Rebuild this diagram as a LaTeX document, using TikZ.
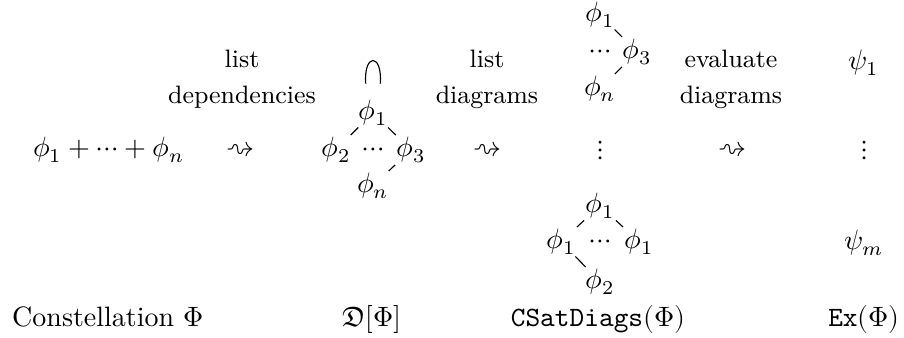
\documentclass[tikz,border=0pt]{standalone}
\usepackage{amsmath}
\usepackage{unicode-math}
\setmathfont{Latin Modern Math}
\begin{document}
\begin{tikzpicture}[x=0.357pt,y=-0.357pt,
  lbl/.style={anchor=base,inner sep=0pt,font=\small},
  mn/.style={anchor=base,inner sep=0pt},
  ln/.style={draw,line width=0.4pt,shorten <=0.5pt,shorten >=0.5pt}]
\useasboundingbox (0,0) rectangle (904,337);
% main row
\node[mn] (sum) at (109,156) {$\phi_1+\cdots+\phi_n$};
\node[mn] (sq1) at (240,156) {$\rightsquigarrow$};
\node[mn] (sq2) at (487,156) {$\rightsquigarrow$};
\node[mn] (sq3) at (732,156) {$\rightsquigarrow$};
% labels
\node[lbl] (l1a) at (242,67) {list};
\node[lbl] (l1b) at (242,103) {dependencies};
\node[lbl] (l2a) at (487,67) {list};
\node[lbl] (l2b) at (487,103) {diagrams};
\node[lbl] (l3a) at (731,67) {evaluate};
\node[lbl] (l3b) at (731,103) {diagrams};
% dependency graph
\node[mn] (d1) at (373,119) {$\phi_1$};
\node[mn] (d2) at (336,156) {$\phi_2$};
\node[mn] (dd) at (373,156) {$\cdots$};
\node[mn] (d3) at (411,156) {$\phi_3$};
\node[mn] (dn) at (373,192) {$\phi_n$};
\path[ln] (d1) -- (d2);
\path[ln] (d1) -- (d3);
\path[ln] (d3) -- (dn);
\coordinate (lpa) at ([xshift=-2.6pt,yshift=5.5pt]d1.north);
\coordinate (lpb) at ([xshift=2.6pt,yshift=5.5pt]d1.north);
\draw[line width=0.4pt] (lpa) .. controls +(-0.8pt,11pt) and +(0.8pt,11pt) .. (lpb);
% top diagram
\node[mn] (a1) at (600,21) {$\phi_1$};
\node[mn] (ad) at (600,58) {$\cdots$};
\node[mn] (a3) at (637,58) {$\phi_3$};
\node[mn] (an) at (600,95) {$\phi_n$};
\path[ln] (a1) -- (a3);
\path[ln] (a3) -- (an);
% vertical dots
\node[mn] (v1) at (601,157) {$\vdots$};
\node[mn] (v2) at (865,157) {$\vdots$};
% bottom diagram
\node[mn] (b1) at (600,212) {$\phi_1$};
\node[mn] (bl) at (561,248) {$\phi_1$};
\node[mn] (bd) at (600,248) {$\cdots$};
\node[mn] (br) at (639,248) {$\phi_1$};
\node[mn] (b2) at (600,288) {$\phi_2$};
\path[ln] (b1) -- (bl);
\path[ln] (b1) -- (br);
\path[ln] (bl) -- (b2);
% results
\node[mn] (p1) at (864,69) {$\psi_1$};
\node[mn] (pm) at (864,249) {$\psi_m$};
% bottom captions
\node[mn] (c1) at (108,326) {Constellation $\Phi$};
\node[mn] (c2) at (372,326) {$\mathfrak{D}[\Phi]$};
\node[mn] (c3) at (598,326) {$\mathtt{CSatDiags}(\Phi)$};
\node[mn] (c4) at (864,326) {$\mathtt{Ex}(\Phi)$};
\end{tikzpicture}
\end{document}
